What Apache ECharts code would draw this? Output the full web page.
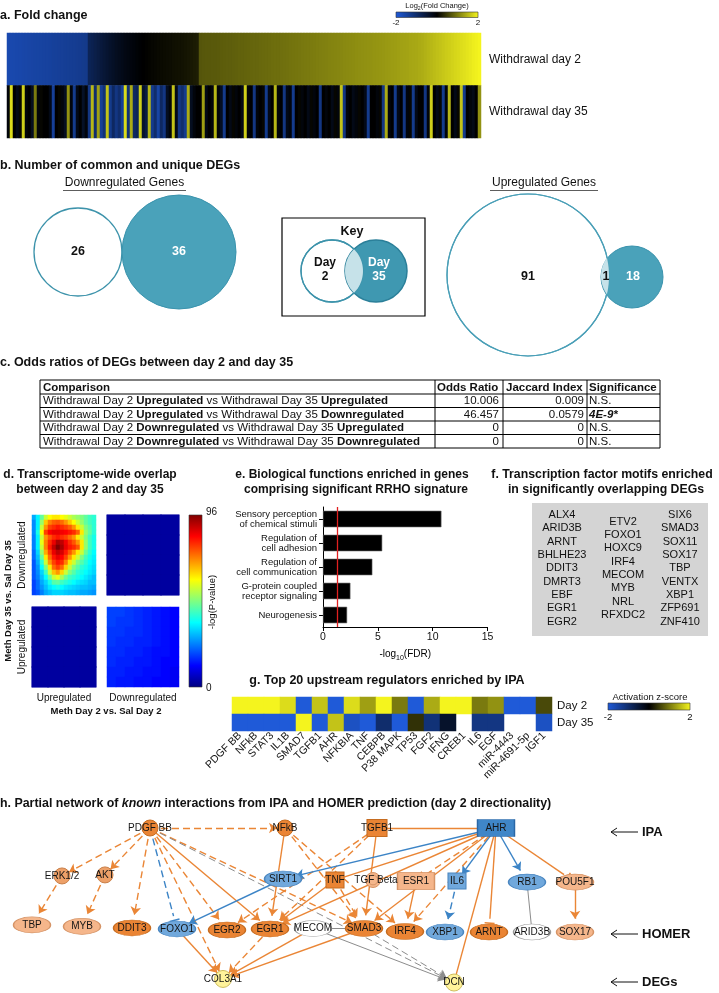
<!DOCTYPE html>
<html><head><meta charset="utf-8">
<script src="https://cdn.jsdelivr.net/npm/echarts@6/dist/echarts.min.js"></script>
<style>html,body{margin:0;padding:0;background:#fff}#c{width:719px;height:993px}</style>
</head><body><div id="c"></div>
<script>
const FONT = '"Liberation Sans", Arial, sans-serif';

// ================= DATA =================
// a. Fold change (genes sorted by day 2)
const fcDay2 = [-1.62,-1.6,-1.59,-1.58,-1.57,-1.56,-1.55,-1.53,-1.52,-1.51,-1.5,-1.48,-1.47,-1.46,-1.45,-1.43,-1.42,-1.41,-1.4,-1.38,-1.37,-1.36,-1.35,-1.33,-1.32,-1.3,-1.28,
 -0.8,-0.74,-0.68,-0.62,-0.56,-0.5,-0.45,-0.4,-0.35,-0.3,-0.26,-0.22,-0.18,-0.15,-0.12,-0.09,-0.06,
 -0.03,0,0.02,0.03,0.05,0.06,0.07,0.08,0.09,0.1,0.11,0.12,0.13,0.14,0.15,0.16,0.18,0.2,0.22,0.24,
 0.7,0.71,0.72,0.72,0.73,0.73,0.74,0.75,0.76,0.77,0.77,0.78,0.79,0.8,0.8,0.81,0.82,0.83,0.84,0.84,0.85,0.86,0.87,0.88,0.89,0.9,0.9,
 0.91,0.92,0.93,0.94,0.95,0.96,0.97,0.98,0.99,1.0,1.01,1.02,1.03,1.04,1.05,1.06,1.07,1.08,1.09,1.1,1.11,1.12,1.13,1.14,1.15,1.16,1.17,1.18,1.19,1.2,1.2,
 1.21,1.22,1.23,1.24,1.25,1.26,1.28,1.29,1.3,1.32,1.33,1.34,1.36,1.37,1.38,1.4,
 1.42,1.45,1.48,1.51,1.54,1.57,1.6,1.63,1.66,1.69,1.72,1.75,
 1.78,1.81,1.84,1.87,1.9,1.94,1.97,2.0];
const fcDay35 = [-0.1,1.8,0,-0.2,0.05,1.7,-0.1,0,-0.3,1.0,-0.1,0.05,0,0,-0.2,-1.4,0,0.05,-0.1,-0.3,1.2,
 -0.1,-1.3,-0.2,0,-0.35,-0.1,-1.2,1.5,-1.0,1.3,-1.4,-1.1,1.6,-1.3,-0.9,-1.2,-1.0,-1.4,1.8,-1.1,
 1.4,-0.9,-0.8,1.7,-0.4,-0.6,1.5,-1.3,-1.0,-1.5,-0.9,-1.2,-0.3,-0.1,1.6,-0.2,-1.2,-1.0,-1.3,1.4,-0.3,
 -0.1,0,0,1.3,-0.2,0,-0.1,1.5,-0.1,-0.3,-1.3,0,-0.2,0.05,-0.1,0,-0.2,1.7,-0.1,0,-1.2,
 -0.1,0,0.05,-1.3,-0.2,0,1.5,-0.1,0,-1.2,-0.2,-0.1,-1.3,0,0.05,-0.1,0,-0.2,0.05,-0.1,0,
 -1.2,0,-0.1,0,-0.2,0.05,-0.1,1.6,-1.2,-0.1,0,-0.2,-0.1,0.05,0,-0.2,-1.3,0,0,-0.1,0.05,-1.2,
 1.4,-0.1,0,-1.3,-0.2,0,-1.2,-0.1,0.05,-1.3,-0.2,0,0,-1.2,-0.1,1.7,0,-0.2,0.05,-1.3,-0.1,
 1.5,0,-0.2,0.05,1.6,-1.3,0,-0.1,-0.2,0,1.2];
const fcRows = ['Withdrawal day 35', 'Withdrawal day 2'];
const fcGenes = fcDay2.map((v, i) => 'gene' + (i + 1));
const fcLegendTicks = ['-2', '2'];

// b. Venn counts [day2 only, common, day35 only]
const vennDown = [26, 0, 36];
const vennUp = [91, 1, 18];
const vennTitles = ['Downregulated Genes', 'Upregulated Genes'];

// c. Odds ratio table
const tblHeader = ['Comparison', 'Odds Ratio', 'Jaccard Index', 'Significance'];
const tblDay2Dir = ['Upregulated', 'Upregulated', 'Downregulated', 'Downregulated'];
const tblDay35Dir = ['Upregulated', 'Downregulated', 'Upregulated', 'Downregulated'];
const tblOdds = ['10.006', '46.457', '0', '0'];
const tblJaccard = ['0.009', '0.0579', '0', '0'];
const tblSig = ['N.S.', '4E-9*', 'N.S.', 'N.S.'];

// d. RRHO maps (-log P)
const rrhoTL = [
 [28,35,45,55,60,62,62,60,58,55,52,50,48,45,42,40],
 [25,35,50,65,72,75,76,74,70,65,60,55,50,45,42,40],
 [25,35,55,70,78,80,82,80,78,75,70,62,55,48,44,40],
 [25,38,60,78,84,86,86,85,84,82,80,75,62,50,45,40],
 [24,35,55,70,76,80,82,80,78,74,70,62,55,48,42,38],
 [24,35,58,72,80,86,92,90,85,80,76,70,62,50,42,38],
 [24,35,55,72,82,90,96,92,86,82,80,76,62,50,42,38],
 [22,32,50,68,78,86,90,88,82,76,70,62,55,46,40,36],
 [22,30,45,62,74,82,86,84,78,70,62,55,48,42,38,35],
 [20,28,40,55,70,78,82,80,72,62,55,48,44,40,36,34],
 [20,26,36,48,62,74,78,74,64,55,48,44,40,38,35,33],
 [20,25,32,42,55,66,70,64,55,48,44,40,38,36,34,32],
 [20,24,30,36,46,55,58,52,46,42,40,38,36,34,32,30],
 [18,22,28,32,38,44,45,42,40,38,36,34,33,32,30,30],
 [18,22,26,30,34,36,38,36,34,33,32,31,30,30,29,28],
 [18,20,24,28,30,32,32,32,31,30,30,29,28,28,27,26]];
const rrhoTR = [[3,3,3,3],[3,3,3,3],[3,3,3,3],[3,3,3,3]];
const rrhoBL = [[3,3,3,3],[3,3,3,3],[3,3,3,3],[3,3,3,3]];
const rrhoBR = [
 [18,18,17,16,15,14,13,12],[18,17,17,16,15,14,13,12],[17,17,16,16,15,14,13,12],[17,16,16,15,15,14,13,12],
 [16,16,15,15,14,13,13,12],[16,15,15,14,14,13,12,12],[15,15,14,14,13,13,12,11],[15,14,14,13,13,12,12,11]];
const rrhoMax = 96;

// e. Biological functions
const goTerms = ['Sensory perception\nof chemical stimuli', 'Regulation of\ncell adhesion', 'Regulation of\ncell communication', 'G-protein coupled\nreceptor signaling', 'Neurogenesis'];
const goFDR = [10.8, 5.4, 4.5, 2.5, 2.2];
const fdrThreshold = 1.3;

// f. Motifs
const motifCol1 = ['ALX4','ARID3B','ARNT','BHLHE23','DDIT3','DMRT3','EBF','EGR1','EGR2'];
const motifCol2 = ['ETV2','FOXO1','HOXC9','IRF4','MECOM','MYB','NRL','RFXDC2'];
const motifCol3 = ['SIX6','SMAD3','SOX11','SOX17','TBP','VENTX','XBP1','ZFP691','ZNF410'];

// g. Upstream regulators (activation z-score)
const regulators = ['PDGF BB','NFkB','STAT3','IL1B','SMAD7','TGFB1','AHR','NFKBIA','TNF','CEBPB','P38 MAPK','TP53','FGF2','IFNG','CREB1','IL6','EGF','miR-4443','miR-4691-5p','IGF1'];
const zDay2 = [2, 2, 2, 1.8, -2, 1.6, -2, 1.8, 1.3, 2, 1.0, -2, 1.4, 2, 2, 1.0, 1.2, -2, -2, 0.6];
const zDay35 = [-2, -2, -2, -2, 2, -2, 1.6, -1.8, -2, -1.0, -2, 0.4, -1.1, -0.4, null, -1.2, -1.2, null, null, -1.8];
const zRows = ['Day 35', 'Day 2'];

// h. Network
const netNames = ['PDGF BB','NFkB','TGFB1','AHR','ERK1/2','AKT','SIRT1','TNF','TGF Beta','ESR1','IL6','RB1','POU5F1',
 'TBP','MYB','DDIT3','FOXO1','EGR2','EGR1','MECOM','SMAD3','IRF4','XBP1','ARNT','ARID3B','SOX17','COL3A1','DCN'];
const netState = ['up','up','up','downStrong','upMid','upMid','down','up','upWeak','upWeak','down','down','upWeak',
 'upWeak','upWeak','up','down','up','up','none','up','up','down','up','none','upWeak','deg','deg'];
const netKind = ['circle','circle','square','rect','circle','circle','ellipse','square','double','rect','square','ellipse','ellipse',
 'ellipse','ellipse','ellipse','ellipse','ellipse','ellipse','ellipse','ellipse','ellipse','ellipse','ellipse','ellipse','ellipse','circle','circle'];
// [source, target, effect, evidence, predicted]
const netLinks = [
 ['PDGF BB','NFkB','act','indirect','up'],
 ['PDGF BB','ERK1/2','act','indirect','up'],
 ['PDGF BB','AKT','act','indirect','up'],
 ['PDGF BB','DDIT3','act','indirect','up'],
 ['PDGF BB','FOXO1','inh','indirect','down'],
 ['PDGF BB','COL3A1','act','indirect','up'],
 ['PDGF BB','EGR2','act','indirect','up'],
 ['PDGF BB','EGR1','act','direct','up'],
 ['PDGF BB','SMAD3','act','indirect','up'],
 ['PDGF BB','DCN','act','indirect','none'],
 ['ERK1/2','TBP','act','indirect','up'],
 ['AKT','MYB','act','indirect','up'],
 ['NFkB','EGR1','act','direct','up'],
 ['NFkB','SMAD3','act','indirect','up'],
 ['NFkB','IRF4','act','indirect','up'],
 ['TGFB1','SMAD3','act','direct','up'],
 ['TGFB1','EGR2','act','indirect','up'],
 ['TGFB1','EGR1','act','indirect','up'],
 ['AHR','TGFB1','inh','direct','up'],
 ['AHR','SIRT1','act','direct','down'],
 ['SIRT1','FOXO1','act','direct','down'],
 ['AHR','IL6','act','direct','down'],
 ['AHR','RB1','act','direct','down'],
 ['AHR','POU5F1','inh','direct','up'],
 ['AHR','ARNT','inh','direct','up'],
 ['AHR','DCN','inh','direct','up'],
 ['AHR','IRF4','act','indirect','up'],
 ['AHR','ESR1','inh','indirect','up'],
 ['AHR','SMAD3','act','direct','up'],
 ['AHR','EGR1','act','direct','up'],
 ['AHR','TNF','inh','direct','up'],
 ['ESR1','IRF4','act','direct','up'],
 ['IL6','XBP1','act','indirect','down'],
 ['RB1','ARID3B','rel','direct','none'],
 ['POU5F1','SOX17','act','direct','up'],
 ['TNF','EGR1','act','direct','up'],
 ['TNF','SMAD3','act','indirect','up'],
 ['EGR1','COL3A1','act','indirect','up'],
 ['FOXO1','COL3A1','act','direct','up'],
 ['SMAD3','COL3A1','act','direct','up'],
 ['MECOM','COL3A1','act','direct','up'],
 ['MECOM','SMAD3','rel','direct','none'],
 ['MECOM','DCN','act','direct','none'],
 ['SMAD3','DCN','act','indirect','none']];
const netLevels = ['IPA', 'HOMER', 'DEGs'];

// ================= LAYOUT (node positions in network space) =================
const netPosX = [150,285,377,496, 62,105,283,335,373,416,457,527,575, 32,82,132,177,227,270,313,364,405,445,489,532,575, 223,454];
const netPosY = [0,0,0,0, 0.94,0.92,1.0,1.02,1.02,1.04,1.04,1.06,1.06, 1.9,1.93,1.96,1.98,2.0,1.98,1.97,1.97,2.03,2.04,2.04,2.04,2.04, 2.96,3.03];

// ================= STYLES =================
const BYB = ['#1f5ad8', '#000000', '#f4f41e'];
const JET = ['#00007f','#0000ff','#0080ff','#00ffff','#80ff80','#ffff00','#ff8000','#ff0000','#7f0000'];
const TEAL = '#4aa2ba', LENS = '#c6e2e9';
const NODE_COL = {
  up: ['#ea8434', '#c66c20'], upMid: ['#eda068', '#c97f48'], upWeak: ['#f5b68b', '#d69466'],
  down: ['#70a8dc', '#4a86c0'], downStrong: ['#3f86c8', '#2a67a6'], none: ['#ffffff', '#9a9a9a'], deg: ['#fff39a', '#cfbe5e']
};
const EDGE_COL = { up: '#ea8636', down: '#3c84c6', none: '#8c8c8c' };
const ELLIPSE = 'path://M0,8A18,8 0 1,0 36,8A18,8 0 1,0 0,8Z';
const DOUBLE = 'path://M0,10A10,10 0 1,0 20,10A10,10 0 1,0 0,10Z M3.5,10A6.5,6.5 0 1,0 16.5,10A6.5,6.5 0 1,0 3.5,10Z';
const INHIB = 'path://M0,0L12,0L12,1.8L0,1.8Z M6,12';
const KIND_SYM = { circle: ['circle', [16, 16]], ellipse: [ELLIPSE, [37, 16]], square: ['rect', [18, 16]], rect: ['rect', [37, 17]], double: [DOUBLE, [15, 15]] };

// ================= GRAPHICS =================
const G = [];
function T(x, y, text, o) {
  o = o || {};
  const st = { text: text, fontFamily: FONT, fontSize: o.size || 12, fontWeight: o.bold ? 'bold' : 'normal',
    fontStyle: o.italic ? 'italic' : 'normal', fill: o.color || '#111', align: o.align || 'left', verticalAlign: o.va || 'middle' };
  if (o.rich) st.rich = o.rich;
  if (o.lh) st.lineHeight = o.lh;
  G.push({ type: 'text', x: x, y: y, rotation: o.rot || 0, z: 20, style: st, silent: true });
}
function L(x1, y1, x2, y2, c, w) { G.push({ type: 'line', z: 15, silent: true, shape: { x1, y1, x2, y2 }, style: { stroke: c || '#000', lineWidth: w || 1 } }); }
function C(cx, cy, r, fill, stroke, w) { G.push({ type: 'circle', z: 10, silent: true, shape: { cx, cy, r }, style: { fill: fill, stroke: stroke, lineWidth: w || 1 } }); }
function grad(x, y, w, h, colors, vertical) {
  G.push({ type: 'rect', z: 10, silent: true, shape: { x, y, width: w, height: h },
    style: { stroke: '#333', lineWidth: 0.6, fill: { type: 'linear', x: 0, y: vertical ? 1 : 0, x2: vertical ? 0 : 1, y2: 0,
      colorStops: colors.map((c, i) => ({ offset: i / (colors.length - 1), color: c })) } } });
}
function lens(x1, r1, x2, r2, cy) {
  const d = x2 - x1, a = (r1 * r1 - r2 * r2 + d * d) / (2 * d), h = Math.sqrt(r1 * r1 - a * a);
  const t1 = Math.asin(h / r1), t2 = Math.asin(h / r2), pts = [];
  for (let k = 0; k <= 24; k++) { const t = -t1 + 2 * t1 * k / 24; pts.push([x1 + r1 * Math.cos(t), cy + r1 * Math.sin(t)]); }
  for (let k = 0; k <= 24; k++) { const t = t2 - 2 * t2 * k / 24; pts.push([x2 - r2 * Math.cos(t), cy + r2 * Math.sin(t)]); }
  G.push({ type: 'polygon', z: 11, silent: true, shape: { points: pts }, style: { fill: LENS, stroke: 'none' } });
}
const SUBR = (fs) => ({ n: { fontSize: fs, fontFamily: FONT, lineHeight: fs + 2, fill: '#111' },
  s: { fontSize: fs * 0.7, fontFamily: FONT, lineHeight: fs * 0.7 + 1, padding: [fs * 0.75, 0, 0, 0], fill: '#111' } });

// titles
const TS = 12.5;
T(0, 16, 'a. Fold change', { bold: true, size: TS });
T(0, 166, 'b. Number of common and unique DEGs', { bold: true, size: TS });
T(0, 363, 'c. Odds ratios of DEGs between day 2 and day 35', { bold: true, size: TS });
T(90, 475, 'd. Transcriptome-wide overlap', { bold: true, size: 12, align: 'center' });
T(90, 490, 'between day 2 and day 35', { bold: true, size: 12, align: 'center' });
T(352, 475, 'e. Biological functions enriched in genes', { bold: true, size: 12, align: 'center' });
T(356, 490, 'comprising significant RRHO signature', { bold: true, size: 12, align: 'center' });
T(602, 475, 'f. Transcription factor motifs enriched', { bold: true, size: 12.3, align: 'center' });
T(606, 490, 'in significantly overlapping DEGs', { bold: true, size: 12.3, align: 'center' });
T(387, 681, 'g. Top 20 upstream regulators enriched by IPA', { bold: true, size: TS, align: 'center' });
T(0, 804, '{b|h. Partial network of }{i|known}{b| interactions from IPA and HOMER prediction (day 2 directionality)}', { rich: {
  b: { fontWeight: 'bold', fontSize: 12.4, fontFamily: FONT, fill: '#111' },
  i: { fontWeight: 'bold', fontStyle: 'italic', fontSize: 12.4, fontFamily: FONT, fill: '#111' } } });

// a legend
T(437, 6, '{n|Log}{s|2}{n|(Fold Change)}', { align: 'center', rich: SUBR(7.5) });
grad(396, 12, 82, 5.5, BYB);
T(396, 23, fcLegendTicks[0], { size: 8, align: 'center' });
T(478, 23, fcLegendTicks[1], { size: 8, align: 'center' });

// b Venn
T(124.5, 183, vennTitles[0], { size: 12, align: 'center' });
L(63, 190.5, 186, 190.5, '#333', 0.8);
T(544, 183, vennTitles[1], { size: 12, align: 'center' });
L(490, 190.5, 598, 190.5, '#333', 0.8);
C(78, 252, 44, '#fff', '#3d93ab', 1.3);
C(179, 252, 57, TEAL, '#3a93ad', 1);
T(78, 252, String(vennDown[0]), { bold: true, size: 12.5, align: 'center' });
T(179, 252, String(vennDown[2]), { bold: true, size: 12.5, align: 'center', color: '#fff' });
// key
G.push({ type: 'rect', z: 9, silent: true, shape: { x: 282, y: 218, width: 143, height: 98 }, style: { fill: '#fff', stroke: '#000', lineWidth: 1.2 } });
T(352, 232, 'Key', { bold: true, size: 12.5, align: 'center' });
C(332, 271, 31, '#fff', '#3d93ab', 1.3);
C(376, 271, 31, '#3f98b1', '#2a7f99', 1.5);
lens(332, 31, 376, 31, 271);
C(332, 271, 31, 'none', '#3d93ab', 1.3);
T(325, 270, 'Day\n2', { bold: true, size: 12, align: 'center', lh: 14 });
T(379, 270, 'Day\n35', { bold: true, size: 12, align: 'center', lh: 14, color: '#fff' });
// up
C(528, 275, 81, '#fff', '#4a9fb7', 1.2);
C(632, 277, 31, TEAL, '#3a93ad', 1);
lens(528, 81, 632, 31, 276);
C(528, 275, 81, 'none', '#4a9fb7', 1.2);
T(528, 277, String(vennUp[0]), { bold: true, size: 12.5, align: 'center' });
T(606, 277, String(vennUp[1]), { bold: true, size: 12.5, align: 'center' });
T(633, 277, String(vennUp[2]), { bold: true, size: 12.5, align: 'center', color: '#fff' });

// c table
const tX = [40, 435, 503, 587, 660], tTop = 380, tHead = 14, tRow = 13.5;
const tBottom = tTop + tHead + tRow * tblOdds.length;
G.push({ type: 'rect', z: 9, silent: true, shape: { x: tX[0], y: tTop, width: tX[4] - tX[0], height: tBottom - tTop }, style: { fill: 'none', stroke: '#000', lineWidth: 1 } });
for (let i = 1; i < 4; i++) L(tX[i], tTop, tX[i], tBottom, '#000', 1);
for (let r = 0; r < tblOdds.length; r++) L(tX[0], tTop + tHead + r * tRow, tX[4], tTop + tHead + r * tRow, '#000', 1);
const TF = 11.5;
T(tX[0] + 3, tTop + tHead / 2 + 0.5, tblHeader[0], { bold: true, size: TF });
T(tX[1] + 2, tTop + tHead / 2 + 0.5, tblHeader[1], { bold: true, size: TF });
T(tX[2] + 3, tTop + tHead / 2 + 0.5, tblHeader[2], { bold: true, size: TF });
T(tX[3] + 2, tTop + tHead / 2 + 0.5, tblHeader[3], { bold: true, size: TF });
const RR = { n: { fontSize: TF, fontFamily: FONT, fill: '#111' }, b: { fontSize: TF, fontFamily: FONT, fontWeight: 'bold', fill: '#111' },
  bi: { fontSize: TF, fontFamily: FONT, fontWeight: 'bold', fontStyle: 'italic', fill: '#111' } };
for (let r = 0; r < tblOdds.length; r++) {
  const y = tTop + tHead + r * tRow + tRow / 2 + 0.5;
  T(tX[0] + 3, y, '{n|Withdrawal Day 2 }{b|' + tblDay2Dir[r] + '}{n| vs Withdrawal Day 35 }{b|' + tblDay35Dir[r] + '}', { rich: RR });
  T(tX[2] - 4, y, tblOdds[r], { size: TF, align: 'right' });
  T(tX[3] - 3, y, tblJaccard[r], { size: TF, align: 'right' });
  const sig = tblSig[r];
  T(tX[3] + 2, y, sig === 'N.S.' ? '{n|' + sig + '}' : '{bi|' + sig + '}', { rich: RR });
}

// d labels + colorbar
grad(189, 515, 13, 172, JET, true);
T(206, 512, String(rrhoMax), { size: 10 });
T(206, 688, '0', { size: 10 });
T(212, 602, '-log(P-value)', { size: 9.5, align: 'center', rot: Math.PI / 2 });
T(22, 555, 'Downregulated', { size: 10, align: 'center', rot: Math.PI / 2 });
T(22, 647, 'Upregulated', { size: 10, align: 'center', rot: Math.PI / 2 });
T(8, 601, 'Meth Day 35 vs. Sal Day 35', { size: 9.5, bold: true, align: 'center', rot: Math.PI / 2 });
T(64, 698, 'Upregulated', { size: 10, align: 'center' });
T(143, 698, 'Downregulated', { size: 10, align: 'center' });
T(106, 711, 'Meth Day 2 vs. Sal Day 2', { size: 9.5, bold: true, align: 'center' });

// f motifs
G.push({ type: 'rect', z: 5, silent: true, shape: { x: 532, y: 503, width: 176, height: 133 }, style: { fill: '#d4d4d4', stroke: 'none' } });
motifCol1.forEach((m, i) => T(562, 515 + i * 13.35, m, { size: 11, align: 'center' }));
motifCol2.forEach((m, i) => T(623, 521.7 + i * 13.35, m, { size: 11, align: 'center' }));
motifCol3.forEach((m, i) => T(680, 515 + i * 13.35, m, { size: 11, align: 'center' }));

// g legend
T(650, 697, 'Activation z-score', { size: 9.5, align: 'center' });
grad(608, 703, 82, 7, BYB);
T(608, 717, fcLegendTicks[0], { size: 9.5, align: 'center' });
T(690, 717, fcLegendTicks[1], { size: 9.5, align: 'center' });

// h level markers
[832, 934, 982].forEach((y, i) => {
  L(611, y, 638, y, '#111', 1);
  G.push({ type: 'polyline', z: 15, silent: true, shape: { points: [[617, y - 4], [611, y], [617, y + 4]] }, style: { stroke: '#111', lineWidth: 1, fill: 'none' } });
  T(642, y, netLevels[i], { bold: true, size: 13 });
});

// ================= SERIES =================
const hmA = [];
fcDay2.forEach((v, i) => hmA.push([i, 1, v]));
fcDay35.forEach((v, i) => hmA.push([i, 0, v]));
function gridData(m) { const out = []; m.forEach((row, r) => row.forEach((v, c) => out.push([c, r, v]))); return out; }
const idx = (n) => Array.from({ length: n }, (_, i) => String(i));
const hmG = [];
zDay2.forEach((v, i) => { if (v !== null) hmG.push([i, 1, v]); });
zDay35.forEach((v, i) => { if (v !== null) hmG.push([i, 0, v]); });

const nodes = netNames.map((n, i) => {
  const ks = KIND_SYM[netKind[i]];
  const col = NODE_COL[netState[i]];
  let size = ks[1];
  if (n === 'TGFB1') size = [20, 17];
  if (n === 'COL3A1' || n === 'DCN') size = [17, 17];
  return { name: n, value: [netPosX[i], netPosY[i]], symbol: ks[0], symbolSize: size,
    itemStyle: { color: col[0], borderColor: col[1], borderWidth: 1 },
    label: { show: true, position: 'inside', fontSize: 10, fontFamily: FONT, color: '#151515', offset: n === 'TGF Beta' ? [3, 0] : [0, 0] } };
});
const links = netLinks.map(l => ({
  source: l[0], target: l[1],
  symbol: ['none', l[2] === 'act' ? 'arrow' : (l[2] === 'inh' ? INHIB : 'none')],
  symbolSize: [0, l[2] === 'act' ? 8 : 10],
  lineStyle: { color: EDGE_COL[l[4]], type: l[3] === 'indirect' ? [7, 4] : 'solid', width: l[4] === 'none' ? 1 : 1.4, opacity: 1, curveness: 0 }
}));

const hideAx = (g, type, data, extra) => Object.assign({ gridIndex: g, type: type, data: data, show: false }, extra || {});
const hmNoSeam = (c) => ({ borderWidth: 0.6, borderColor: c });
const option = {
  animation: false,
  backgroundColor: '#fff',
  grid: [
    { left: 7, top: 33, width: 474, height: 105 },
    { left: 32, top: 515, width: 64, height: 80 },
    { left: 107, top: 515, width: 72, height: 80 },
    { left: 32, top: 607, width: 64, height: 80 },
    { left: 107, top: 607, width: 72, height: 80 },
    { left: 323, top: 507, width: 164.5, height: 120 },
    { left: 232, top: 697, width: 320, height: 34 },
    { left: 0, top: 828, width: 719, height: 153 }
  ],
  xAxis: [
    hideAx(0, 'category', fcGenes),
    hideAx(1, 'category', idx(16)), hideAx(2, 'category', idx(4)), hideAx(3, 'category', idx(4)), hideAx(4, 'category', idx(8)),
    { gridIndex: 5, type: 'value', min: 0, max: 15, interval: 5,
      axisLine: { show: true, lineStyle: { color: '#000', width: 1 } }, axisTick: { show: true, length: 4, lineStyle: { color: '#000' } },
      splitLine: { show: false }, axisLabel: { fontSize: 10.5, color: '#111', margin: 5, fontFamily: FONT },
      name: '{n|-log}{s|10}{n|(FDR)}', nameLocation: 'middle', nameGap: 21,
      nameTextStyle: { rich: SUBR(10) } },
    { gridIndex: 6, type: 'category', data: regulators, axisLine: { show: false }, axisTick: { show: false }, splitLine: { show: false },
      axisLabel: { interval: 0, rotate: 45, fontSize: 10.5, color: '#111', margin: 3, fontFamily: FONT } },
    { gridIndex: 7, type: 'value', min: 0, max: 719, show: false }
  ],
  yAxis: [
    { gridIndex: 0, type: 'category', data: fcRows, position: 'right', axisLine: { show: false }, axisTick: { show: false },
      axisLabel: { fontSize: 12, color: '#111', margin: 8, fontFamily: FONT } },
    hideAx(1, 'category', idx(16), { inverse: true }), hideAx(2, 'category', idx(4), { inverse: true }),
    hideAx(3, 'category', idx(4), { inverse: true }), hideAx(4, 'category', idx(8), { inverse: true }),
    { gridIndex: 5, type: 'category', data: goTerms, inverse: true,
      axisLine: { show: true, lineStyle: { color: '#000', width: 1 } }, axisTick: { show: true, alignWithLabel: true, length: 4, lineStyle: { color: '#000' } },
      axisLabel: { fontSize: 9.5, lineHeight: 10, color: '#111', margin: 6, fontFamily: FONT } },
    { gridIndex: 6, type: 'category', data: zRows, position: 'right', axisLine: { show: false }, axisTick: { show: false },
      axisLabel: { fontSize: 11.5, color: '#111', margin: 5, fontFamily: FONT } },
    { gridIndex: 7, type: 'value', min: 0, max: 3, inverse: true, show: false }
  ],
  visualMap: [
    { type: 'continuous', show: false, seriesIndex: [0, 6], min: -2, max: 2, inRange: { color: BYB } },
    { type: 'continuous', show: false, seriesIndex: [1, 2, 3, 4], min: 0, max: rrhoMax, inRange: { color: JET } }
  ],
  series: [
    { type: 'heatmap', xAxisIndex: 0, yAxisIndex: 0, data: hmA, itemStyle: { borderWidth: 0 }, emphasis: { disabled: true } },
    { type: 'heatmap', xAxisIndex: 1, yAxisIndex: 1, data: gridData(rrhoTL), emphasis: { disabled: true } },
    { type: 'heatmap', xAxisIndex: 2, yAxisIndex: 2, data: gridData(rrhoTR), itemStyle: hmNoSeam('#0000a0'), emphasis: { disabled: true } },
    { type: 'heatmap', xAxisIndex: 3, yAxisIndex: 3, data: gridData(rrhoBL), itemStyle: hmNoSeam('#0000a0'), emphasis: { disabled: true } },
    { type: 'heatmap', xAxisIndex: 4, yAxisIndex: 4, data: gridData(rrhoBR), emphasis: { disabled: true } },
    { type: 'bar', xAxisIndex: 5, yAxisIndex: 5, data: goFDR, barWidth: 16.5,
      itemStyle: { color: '#000', borderColor: '#666', borderWidth: 0.6 },
      markLine: { silent: true, symbol: 'none', label: { show: false }, lineStyle: { color: '#e02020', width: 1.3, type: 'solid' },
        data: [{ xAxis: fdrThreshold }] } },
    { type: 'heatmap', xAxisIndex: 6, yAxisIndex: 6, data: hmG, emphasis: { disabled: true } },
    { type: 'graph', coordinateSystem: 'cartesian2d', xAxisIndex: 7, yAxisIndex: 7, data: nodes, links: links,
      edgeSymbol: ['none', 'arrow'], edgeSymbolSize: [0, 8], roam: false, emphasis: { disabled: true }, z: 3,
      label: { show: true, fontSize: 10, fontFamily: FONT, color: '#151515' } }
  ],
  graphic: { elements: G }
};
const chart = echarts.init(document.getElementById('c'), null, { renderer: 'canvas' });
chart.setOption(option);
</script></body></html>
